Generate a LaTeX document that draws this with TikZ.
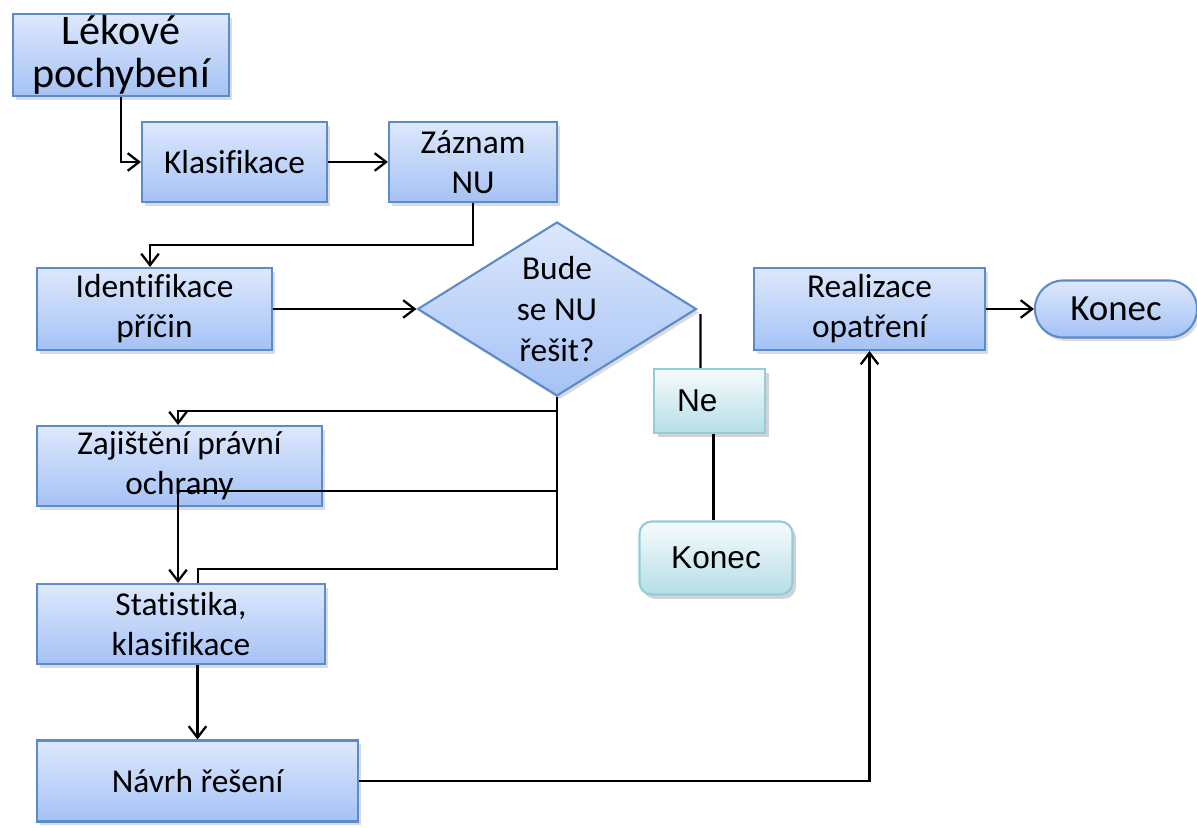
\documentclass[tikz,border=0pt]{standalone}
\usepackage{fontspec}
\setmainfont[Ligatures=NoCommon]{Carlito}
\newfontfamily\arialfont{Liberation Sans}
\usepackage{tikz}
\usetikzlibrary{arrows.meta,calc,positioning,shapes.geometric,shadows}
\usepackage{xcolor}
\definecolor{blueTop}{HTML}{DDE8FC}
\definecolor{blueBot}{HTML}{A5C2F5}
\definecolor{blueLine}{HTML}{5B8BCB}
\definecolor{tealTop}{HTML}{F7FBFC}
\definecolor{tealBot}{HTML}{B5DEE7}
\definecolor{tealLine}{HTML}{93CDDB}

\tikzset{
  krok/.style={draw=blueLine, line width=1.2pt, top color=blueTop, bottom color=blueBot,
    drop shadow={shadow xshift=1.5pt, shadow yshift=-2pt, fill=black!40, opacity=.35},
    align=center, inner sep=0pt, font=\fontsize{19}{22.7}\selectfont},
  tyrkys/.style={draw=tealLine, line width=1.2pt, top color=tealTop, bottom color=tealBot,
    drop shadow={shadow xshift=2pt, shadow yshift=-2.5pt, fill=black!50, opacity=.35},
    font=\arialfont\fontsize{18}{21}\selectfont},
  sipka/.style={-{Straight Barb[length=6.5pt,width=10pt]}, line width=1.3pt},
  cara/.style={line width=1.3pt}
}

\begin{document}
\begin{tikzpicture}[x=0.02cm, y=-0.02cm]
\useasboundingbox (0,0) rectangle (1197,828);
% --- uzly ---
\node[krok, minimum width=4.32cm, minimum height=1.64cm,
  font=\fontsize{24}{24.4}\selectfont] (lek) at (121,55) {Lékové\\pochybení};
\node[krok, minimum width=3.7cm, minimum height=1.6cm] (kla) at (234.5,162) {Klasifikace};
\node[krok, minimum width=3.36cm, minimum height=1.6cm] (zaz) at (473,162) {Záznam\\NU};
\node[krok, minimum width=4.7cm, minimum height=1.64cm] (ide) at (154.5,309) {Identifikace\\příčin};
\node[krok, diamond, aspect=1.6, minimum width=5.58cm, minimum height=3.48cm,
  font=\fontsize{19}{23.5}\selectfont] (dia) at (557,309) {Bude\\se NU\\řešit?};
\node[krok, minimum width=4.62cm, minimum height=1.64cm] (rea) at (869.5,309) {Realizace\\opatření};
\node[krok, minimum width=3.24cm, minimum height=1.14cm, rounded corners=0.56cm,
  font=\fontsize{21}{24}\selectfont] (kon1) at (1116,309) {Konec};
\node[tyrkys, minimum height=1.28cm, text width=1.3cm, inner xsep=0.46cm, align=left] (ne) at (709.5,401) {Ne};
\node[tyrkys, minimum width=3.06cm, minimum height=1.46cm, rounded corners=0.24cm] (kon2) at (716,558) {Konec};
\node[krok, minimum width=5.7cm, minimum height=1.6cm] (zaj) at (179.5,466) {Zajištění právní\\ochrany};
\node[krok, minimum width=5.76cm, minimum height=1.6cm] (sta) at (181,624) {Statistika,\\klasifikace};
\node[krok, minimum width=6.42cm, minimum height=1.62cm] (nav) at (197.5,781) {Návrh řešení};
% --- spojnice ---
\draw[sipka] (lek.south) |- (kla.west);
\draw[sipka] (kla) -- (zaz);
\draw[sipka] (zaz.south) -- ++(0,42) -| ([xshift=-0.09cm]ide.north);
\draw[sipka] (ide) -- (dia);
\draw[cara] ([shift={(3,5)}]dia.east) -- ([xshift=-0.18cm]ne.north);
\draw[cara] ([xshift=0.08cm]ne.south) -- ([xshift=0.08cm]ne.south |- kon2.north);
\draw[sipka] (dia.south) -- ++(0,14) -| ([xshift=-0.03cm]zaj.north);
\draw[sipka] (dia.south) -- ++(0,94) -| ([xshift=-0.06cm]sta.north);
\draw[cara] (dia.south) -- ++(0,172) -| ([xshift=0.34cm]sta.north);
\draw[sipka] (nav.north |- sta.south) -- (nav.north);
\draw[sipka] (nav.east) -| (rea.south);
\draw[sipka] (rea) -- (kon1);
\end{tikzpicture}
\end{document}
